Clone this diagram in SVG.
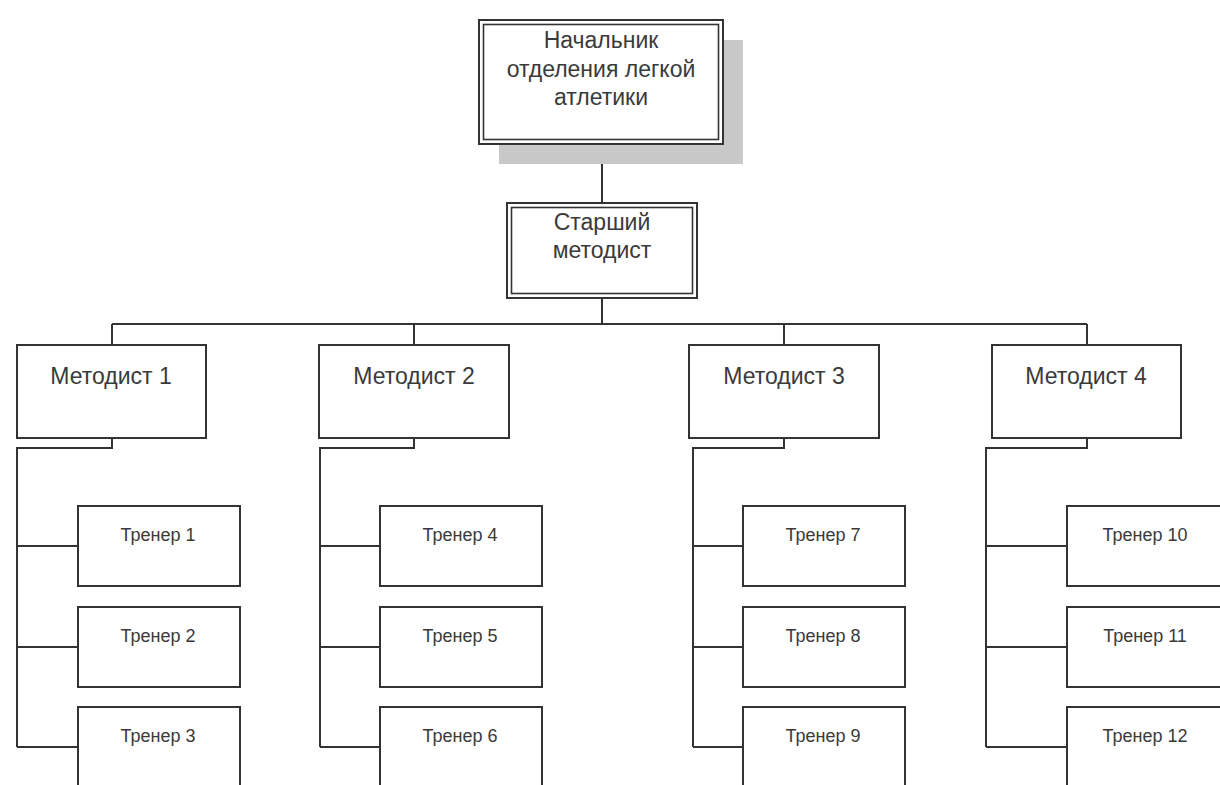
<svg xmlns="http://www.w3.org/2000/svg" width="1220" height="785" viewBox="0 0 1220 785">
<style>
.box{fill:#fff;stroke:#333;stroke-width:2}
.inner{fill:none;stroke:#333;stroke-width:1.6}
.conn{fill:none;stroke:#333;stroke-width:2}
.t{font-family:"Liberation Sans",Arial,sans-serif;fill:#3a3a3a;text-anchor:middle}
.big{font-size:23px}
.mid{font-size:23px}
.small{font-size:18px}
</style>
<rect width="1220" height="785" fill="#fff"/>
<g id="connectors">
<path class="conn" d="M602 144V203"/>
<path class="conn" d="M602 298V324M112 324H1087M112 324V345M414 324V345M784 324V345M1087 324V345"/>
<path class="conn" d="M112 438V448H17V747M17 546H78M17 647H78M17 747H78"/>
<path class="conn" d="M414 438V448H320V747M320 546H380M320 647H380M320 747H380"/>
<path class="conn" d="M784 438V448H693V747M693 546H743M693 647H743M693 747H743"/>
<path class="conn" d="M1087 438V448H986V747M986 546H1067M986 647H1067M986 747H1067"/>
</g>
<g id="head">
<rect x="499" y="40" width="244" height="124" fill="#c8c8c8"/>
<rect class="box" x="479" y="20" width="244" height="124"/>
<rect class="inner" x="483.5" y="24.5" width="235" height="115"/>
<text class="t big" x="601" y="48">Начальник</text>
<text class="t big" x="601" y="77">отделения легкой</text>
<text class="t big" x="601" y="105">атлетики</text>
</g>
<g id="senior">
<rect class="box" x="507" y="203" width="190" height="95"/>
<rect class="inner" x="511.5" y="207.5" width="181" height="86"/>
<text class="t mid" x="602" y="230">Старший</text>
<text class="t mid" x="602" y="258">методист</text>
</g>
<g id="m1"><rect class="box" x="17" y="345" width="189" height="93"/><text class="t mid" x="111" y="384">Методист 1</text></g>
<g id="m2"><rect class="box" x="319" y="345" width="190" height="93"/><text class="t mid" x="414" y="384">Методист 2</text></g>
<g id="m3"><rect class="box" x="689" y="345" width="190" height="93"/><text class="t mid" x="784" y="384">Методист 3</text></g>
<g id="m4"><rect class="box" x="992" y="345" width="189" height="93"/><text class="t mid" x="1086" y="384">Методист 4</text></g>
<g id="t1"><rect class="box" x="78" y="506" width="162" height="80"/><text class="t small" x="158" y="541">Тренер 1</text></g>
<g id="t2"><rect class="box" x="78" y="607" width="162" height="80"/><text class="t small" x="158" y="642">Тренер 2</text></g>
<g id="t3"><rect class="box" x="78" y="707" width="162" height="90"/><text class="t small" x="158" y="742">Тренер 3</text></g>
<g id="t4"><rect class="box" x="380" y="506" width="162" height="80"/><text class="t small" x="460" y="541">Тренер 4</text></g>
<g id="t5"><rect class="box" x="380" y="607" width="162" height="80"/><text class="t small" x="460" y="642">Тренер 5</text></g>
<g id="t6"><rect class="box" x="380" y="707" width="162" height="90"/><text class="t small" x="460" y="742">Тренер 6</text></g>
<g id="t7"><rect class="box" x="743" y="506" width="162" height="80"/><text class="t small" x="823" y="541">Тренер 7</text></g>
<g id="t8"><rect class="box" x="743" y="607" width="162" height="80"/><text class="t small" x="823" y="642">Тренер 8</text></g>
<g id="t9"><rect class="box" x="743" y="707" width="162" height="90"/><text class="t small" x="823" y="742">Тренер 9</text></g>
<g id="t10"><rect class="box" x="1067" y="506" width="162" height="80"/><text class="t small" x="1145" y="541">Тренер 10</text></g>
<g id="t11"><rect class="box" x="1067" y="607" width="162" height="80"/><text class="t small" x="1145" y="642">Тренер 11</text></g>
<g id="t12"><rect class="box" x="1067" y="707" width="162" height="90"/><text class="t small" x="1145" y="742">Тренер 12</text></g>
</svg>
